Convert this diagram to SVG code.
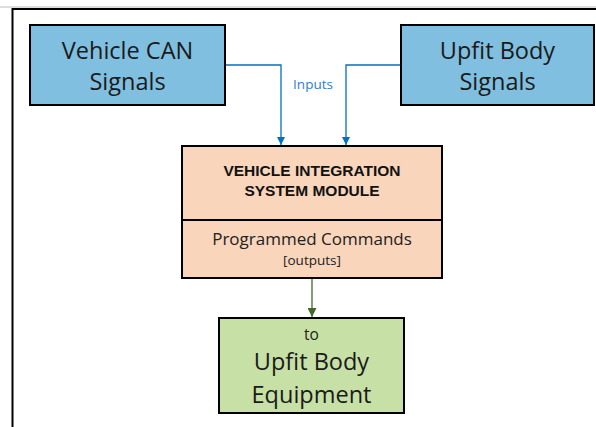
<svg xmlns="http://www.w3.org/2000/svg" width="596" height="427" viewBox="0 0 596 427">
<defs>
<style>
.box{stroke:#000;stroke-width:2}
.big{font-family:"Open Sans","Liberation Sans",sans-serif;font-size:23.5px;fill:#1a1a1a;text-anchor:middle}
.mid{font-family:"Open Sans","Liberation Sans",sans-serif;font-size:17px;fill:#222;text-anchor:middle}
.bold{font-family:"Liberation Sans",Arial,sans-serif;font-weight:bold;font-size:15.5px;fill:#111;text-anchor:middle}
</style>
<marker id="ab" viewBox="0 0 10 10" refX="10" refY="5" markerWidth="8" markerHeight="8" markerUnits="userSpaceOnUse" orient="auto"><path d="M0,0 L10,5 L0,10 z" fill="#0070C0"/></marker>
<marker id="ag" viewBox="0 0 10 10" refX="10" refY="5" markerWidth="9" markerHeight="9" markerUnits="userSpaceOnUse" orient="auto"><path d="M0,0 L10,5 L0,10 z" fill="#44682C"/></marker>
</defs>
<rect width="596" height="427" fill="#fff"/>
<line x1="0" y1="7" x2="596" y2="7" stroke="#bbb" stroke-width="1"/>
<path d="M12.5,430 V9 H600" fill="none" stroke="#000" stroke-width="2"/>
<g id="connectors">
<path d="M225,65 H281 V145" fill="none" stroke="#0070C0" stroke-width="1.3" marker-end="url(#ab)"/>
<path d="M401,65 H346 V145" fill="none" stroke="#0070C0" stroke-width="1.3" marker-end="url(#ab)"/>
<text x="313" y="89" font-family="'Open Sans','Liberation Sans',sans-serif" font-size="13.5" fill="#2E80CC" text-anchor="middle">Inputs</text>
<path d="M312,279 V317" fill="none" stroke="#44682C" stroke-width="1.3" marker-end="url(#ag)"/>
</g>
<g id="vehicle-can">
<rect class="box" x="30" y="25" width="195" height="80" fill="#80BFDF"/>
<text class="big" x="127.5" y="59">Vehicle CAN</text>
<text class="big" x="127.5" y="90">Signals</text>
</g>
<g id="upfit-signals">
<rect class="box" x="401" y="25" width="193" height="80" fill="#80BFDF"/>
<text class="big" x="497.5" y="59">Upfit Body</text>
<text class="big" x="497.5" y="90">Signals</text>
</g>
<g id="module">
<rect class="box" x="182" y="146" width="260" height="132" fill="#F8D5BB"/>
<line x1="182" y1="220" x2="442" y2="220" stroke="#000" stroke-width="2"/>
<text class="bold" x="312" y="176">VEHICLE INTEGRATION</text>
<text class="bold" x="312" y="196">SYSTEM MODULE</text>
<text class="mid" x="312" y="245">Programmed Commands</text>
<text class="mid" x="312" y="265" style="font-size:13.5px">[outputs]</text>
</g>
<g id="equipment">
<rect class="box" x="219" y="318" width="185" height="95" fill="#C6E0A6"/>
<text class="mid" x="311.5" y="340" style="font-size:15.5px">to</text>
<text class="big" x="311.5" y="370">Upfit Body</text>
<text class="big" x="311.5" y="403">Equipment</text>
</g>
</svg>
